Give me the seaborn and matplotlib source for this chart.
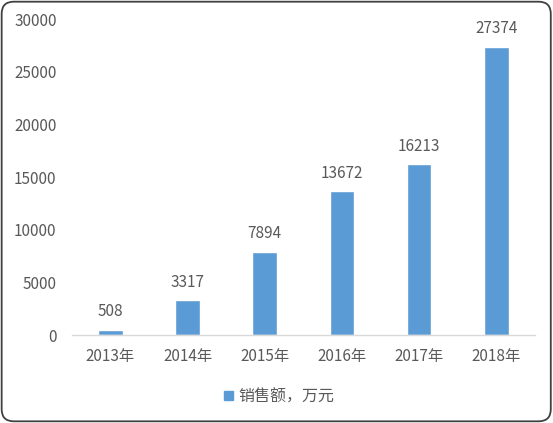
import pandas as pd
import seaborn as sns
import matplotlib.pyplot as plt
from matplotlib.patches import FancyBboxPatch, Patch

# data
years = ["2013年", "2014年", "2015年", "2016年", "2017年", "2018年"]
sales = [508, 3317, 7894, 13672, 16213, 27374]
series_name = "销售额，万元"

df = pd.DataFrame({"year": years, "sales": sales})

sns.set_theme(style="white")
plt.rcParams['font.family'] = ['Noto Sans CJK SC', 'DejaVu Sans']
text_color = "#595959"
bar_color = "#5B9BD5"

fig = plt.figure(figsize=(5.53, 4.23), dpi=100)
ax = fig.add_axes([0.130, 0.208, 0.837, 0.747])

sns.barplot(data=df, x="year", y="sales", color=bar_color, width=0.32,
            saturation=1, ax=ax)

ax.set_ylim(0, 30000)
ax.set_xlim(-0.5, 5.5)
ax.set_yticks(range(0, 30001, 5000))
ax.set_xlabel("")
ax.set_ylabel("")

# value labels above bars
for i, v in enumerate(sales):
    ax.text(i, v + 900, str(v), ha="center", va="bottom", fontsize=11, color=text_color)

for s in ["top", "right", "left"]:
    ax.spines[s].set_visible(False)
ax.spines["bottom"].set_color("#D9D9D9")
ax.spines["bottom"].set_linewidth(1)
ax.tick_params(axis="both", length=0, labelsize=11, labelcolor=text_color)
ax.tick_params(axis="y", pad=11)
ax.tick_params(axis="x", pad=9)

handles = [Patch(facecolor=bar_color, edgecolor=bar_color)]
fig.legend(handles, [series_name], loc="center", bbox_to_anchor=(0.505, 0.062),
           frameon=False, fontsize=11.5, labelcolor=text_color,
           handlelength=0.55, handleheight=0.55, handletextpad=0.3)

# rounded frame around the chart
frame = FancyBboxPatch((0.003, 0.004), 0.993, 0.992,
                       boxstyle="round,pad=0,rounding_size=0.022",
                       mutation_aspect=553 / 423,
                       transform=fig.transFigure, fill=False, edgecolor="#404040",
                       linewidth=1.3)
fig.patches.append(frame)

fig.savefig("out.png", dpi=100)
